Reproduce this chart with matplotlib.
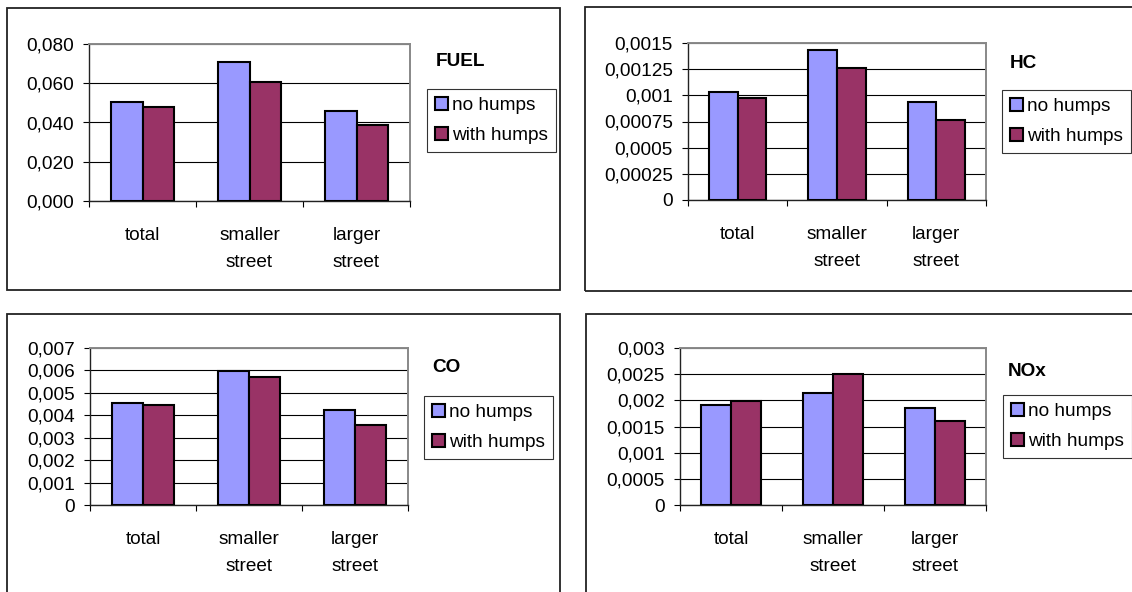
import matplotlib.pyplot as plt
from matplotlib.patches import Rectangle
from matplotlib.ticker import FixedLocator

plt.rcParams['font.family'] = ['Liberation Sans', 'DejaVu Sans']

categories = ["total", "smaller\nstreet", "larger\nstreet"]
series = ["no humps", "with humps"]

fuel_no = [0.0504, 0.0708, 0.0459]
fuel_with = [0.0479, 0.0606, 0.0387]
hc_no = [0.00103, 0.00143, 0.000936]
hc_with = [0.000975, 0.00126, 0.000764]
co_no = [0.00455, 0.00597, 0.00424]
co_with = [0.00446, 0.00571, 0.00357]
nox_no = [0.00191, 0.00214, 0.00185]
nox_with = [0.00199, 0.00250, 0.00161]

fuel_ticks = [0.0, 0.02, 0.04, 0.06, 0.08]
hc_ticks = [0, 0.00025, 0.0005, 0.00075, 0.001, 0.00125, 0.0015]
co_ticks = [0, 0.001, 0.002, 0.003, 0.004, 0.005, 0.006, 0.007]
nox_ticks = [0, 0.0005, 0.001, 0.0015, 0.002, 0.0025, 0.003]

fuel_labels = ["0,000", "0,020", "0,040", "0,060", "0,080"]
hc_labels = ["0", "0,00025", "0,0005", "0,00075", "0,001", "0,00125", "0,0015"]
co_labels = ["0", "0,001", "0,002", "0,003", "0,004", "0,005", "0,006", "0,007"]
nox_labels = ["0", "0,0005", "0,001", "0,0015", "0,002", "0,0025", "0,003"]

BLUE = "#9999FF"
MAROON = "#993366"
W, H = 1132, 592
FS = 13.7

fig = plt.figure(figsize=(W / 100, H / 100), dpi=100)

# outer chart frames in pixels: left, top, right, bottom
frames = [(7, 8, 560, 290), (585, 7, 1140, 291), (7, 314, 560, 600), (586, 314, 1140, 600)]
for x0, y0, x1, y1 in frames:
    fig.patches.append(Rectangle((x0 / W, 1 - y1 / H), (x1 - x0) / W, (y1 - y0) / H,
                                 transform=fig.transFigure, fill=False,
                                 edgecolor="#222222", linewidth=1.3))

# name, data, ticks, plot box (px), title pos (px), legend top-left (px)
panels = [
    ("FUEL", fuel_no, fuel_with, fuel_ticks, fuel_labels, (89, 44, 410, 201), (436, 61), (427, 89)),
    ("HC", hc_no, hc_with, hc_ticks, hc_labels, (688, 43, 986, 200), (1010, 63), (1002, 90)),
    ("CO", co_no, co_with, co_ticks, co_labels, (90, 348, 408, 505), (432, 368), (424, 396)),
    ("NOx", nox_no, nox_with, nox_ticks, nox_labels, (680, 348, 986, 505), (1008, 372), (1003, 395)),
]

for title, v_no, v_with, ticks, labels, box, tpos, lpos in panels:
    x0, y0, x1, y1 = box
    ax = fig.add_axes([x0 / W, 1 - y1 / H, (x1 - x0) / W, (y1 - y0) / H])
    xs = range(len(categories))
    bw = 0.29
    b1 = ax.bar([x - bw / 2 for x in xs], v_no, bw, color=BLUE, edgecolor="black",
                linewidth=1.5, zorder=3, label=series[0])
    b2 = ax.bar([x + bw / 2 for x in xs], v_with, bw, color=MAROON, edgecolor="black",
                linewidth=1.5, zorder=3, label=series[1])
    ax.set_xlim(-0.5, 2.5)
    ax.set_ylim(ticks[0], ticks[-1])
    ax.yaxis.set_major_locator(FixedLocator(ticks))
    ax.set_yticklabels(labels, fontsize=FS)
    ax.grid(axis="y", color="black", linewidth=0.8, zorder=0)
    ax.set_xticks([0, 1, 2])
    ax.set_xticklabels(categories, fontsize=FS, linespacing=1.8)
    ax.tick_params(axis="x", which="major", length=0, pad=18.5)
    ax.set_xticks([-0.5, 0.5, 1.5, 2.5], minor=True)
    ax.tick_params(axis="x", which="minor", length=4, width=0.8, direction="out")
    ax.tick_params(axis="y", length=4, width=0.8, direction="out", pad=7)
    for s in ["top", "right"]:
        ax.spines[s].set_color("#888888")
        ax.spines[s].set_linewidth(1.4)
    for s in ["left", "bottom"]:
        ax.spines[s].set_color("#222222")
        ax.spines[s].set_linewidth(1.0)
    fig.text(tpos[0] / W, 1 - tpos[1] / H, title, fontsize=FS, fontweight="bold",
             va="center", ha="left")
    leg = fig.legend([b1, b2], series, loc="upper left",
                     bbox_to_anchor=(lpos[0] / W, 1 - lpos[1] / H),
                     fontsize=FS, frameon=True, fancybox=False, borderpad=0.4,
                     handlelength=0.68, handleheight=0.68, handletextpad=0.25,
                     labelspacing=0.7, borderaxespad=0)
    leg.get_frame().set_edgecolor("black")
    leg.get_frame().set_linewidth(0.8)
    for h in leg.legend_handles:
        h.set_linewidth(1.5)

fig.savefig("out.png", dpi=100)
